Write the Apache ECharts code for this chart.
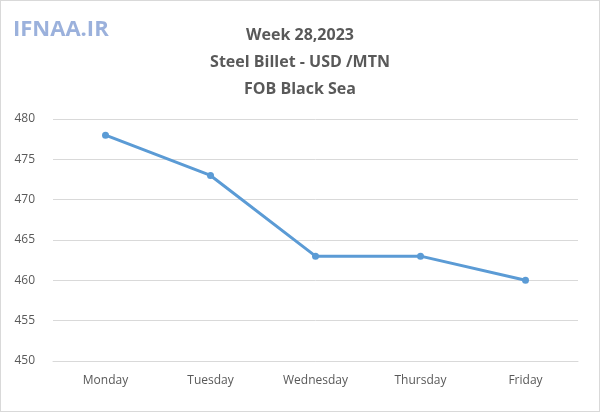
<!DOCTYPE html>
<html><head><meta charset="utf-8">
<script src="https://cdn.jsdelivr.net/npm/echarts@6/dist/echarts.min.js"></script>
<style>html,body{margin:0;padding:0;background:#fff}#c{width:598px;height:410px;border:1px solid #d9d9d9}</style>
</head><body><div id="c"></div>
<script>
const categories = ['Monday','Tuesday','Wednesday','Thursday','Friday'];
const prices = [478, 473, 463, 463, 460];
const chart = echarts.init(document.getElementById('c'));
chart.setOption({
  graphic: [{type:'text', left: 12, top: 18, style:{text:'IFNAA.IR', font:'bold 22px "Open Sans"', fill:'#8aa3d6', opacity:0.85}}],
  title: {text: 'Week 28,2023\nSteel Billet - USD /MTN\nFOB Black Sea', left: 'center', top: 16,
    textStyle: {fontFamily:'"Open Sans"', fontSize: 16, fontWeight:'bold', color:'#595959', lineHeight: 27}},
  grid: {left: 52, right: 21, top: 118, bottom: 50},
  xAxis: {type:'category', data: categories, boundaryGap: true,
    axisLine:{lineStyle:{color:'#d9d9d9'}}, axisTick:{show:false},
    axisLabel:{color:'#595959', fontSize:12, margin:14, fontFamily:'"Open Sans"'}},
  yAxis: {type:'value', min:450, max:480, interval:5,
    axisLine:{show:false}, axisTick:{show:false},
    splitLine:{lineStyle:{color:'#d9d9d9'}},
    axisLabel:{color:'#595959', fontSize:12, margin:18, fontFamily:'"Open Sans"'}},
  series: [{type:'line', data: prices, symbol:'circle', symbolSize:7,
    lineStyle:{color:'#5b9bd5', width:3}, itemStyle:{color:'#5b9bd5'}}]
});
</script></body></html>
